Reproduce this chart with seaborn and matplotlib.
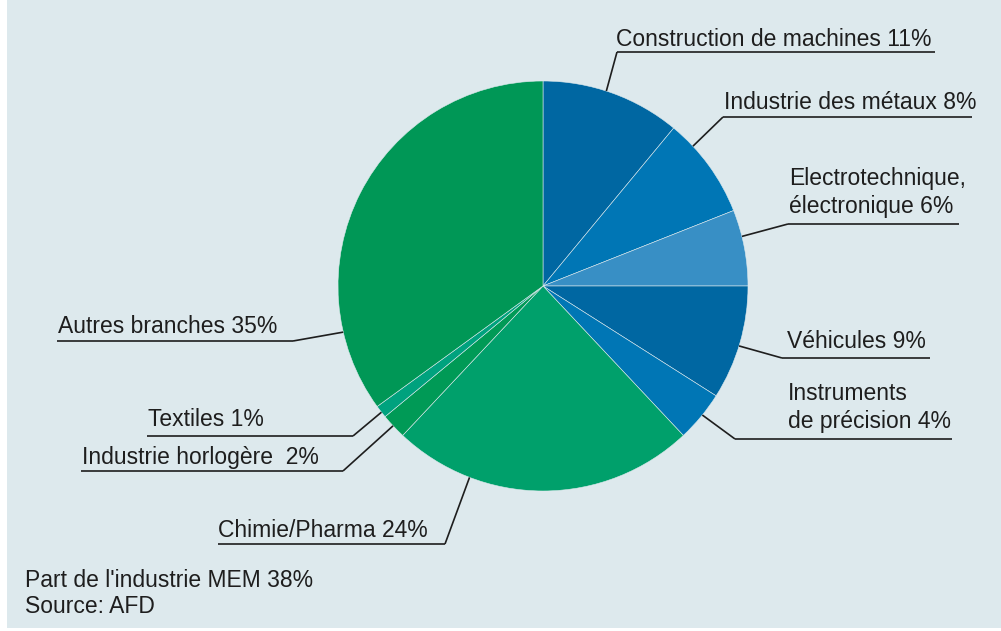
import numpy as np
import seaborn as sns
import matplotlib.pyplot as plt
from matplotlib.patches import Rectangle

sns.set_theme(style="white")
plt.rcParams["font.family"] = ["Liberation Sans", "DejaVu Sans"]

# ----------------------------
# Data
# ----------------------------
branches = [
    "Construction de machines 11%",
    "Industrie des métaux 8%",
    "Electrotechnique,\nélectronique 6%",
    "Véhicules 9%",
    "Instruments\nde précision 4%",
    "Chimie/Pharma 24%",
    "Industrie horlogère  2%",
    "Textiles 1%",
    "Autres branches 35%",
]
shares = [11, 8, 6, 9, 4, 24, 2, 1, 35]
slice_colors = [
    "#0067a2", "#0076b5", "#388fc5", "#0067a2", "#0076b5",
    "#00a06b", "#009a56", "#00a27e", "#009756",
]
footer_lines = ["Part de l'industrie MEM 38%", "Source: AFD"]

# label layout in pixels: text x, last baseline y, underline x0, x1, underline y, leader side
label_layout = [
    (616, 46, 617, 935, 52, "left"),
    (724, 109, 723, 972, 117, "left"),
    (789, 213, 788, 959, 224, "left"),
    (787, 348, 782, 930, 358, "left"),
    (788, 428, 735, 952, 439, "left"),
    (218, 537, 218, 445, 544, "right"),
    (82, 464, 81, 343, 471, "right"),
    (148, 426, 147, 353, 436, "right"),
    (58, 333, 57, 293, 341, "right"),
]
# where each leader touches the pie rim (degrees, 0 = 3 o'clock)
anchor_angles = [72, 43, 14, -17, -39, -111, -137, -142, 193]

W, H = 1001, 631
BG = "#dde9ed"
INK = "#1e1e1e"
FS = 16.5
LINE_STEP = 28

fig = plt.figure(figsize=(W / 100, H / 100), dpi=100, facecolor="white")

# background panel
bg_ax = fig.add_axes([0, 0, 1, 1])
bg_ax.set_xlim(0, W)
bg_ax.set_ylim(H, 0)
bg_ax.axis("off")
bg_ax.add_patch(Rectangle((7, 0), W - 7, H - 3, facecolor=BG, edgecolor="none"))

# pie
cx, cy, r = 543, 286, 205
pie_ax = fig.add_axes([(cx - r) / W, (H - cy - r) / H, 2 * r / W, 2 * r / H])
pie_ax.pie(
    shares,
    colors=slice_colors,
    startangle=90,
    counterclock=False,
    radius=1,
    wedgeprops=dict(linewidth=0.4, edgecolor=BG),
)
pie_ax.set_xlim(-1, 1)
pie_ax.set_ylim(-1, 1)
pie_ax.set_aspect("equal")
pie_ax.axis("off")

# overlay for labels in pixel coordinates
ov = fig.add_axes([0, 0, 1, 1])
ov.set_xlim(0, W)
ov.set_ylim(H, 0)
ov.axis("off")
ov.patch.set_alpha(0)

to_pix = pie_ax.transData + ov.transData.inverted()
for text, (tx, ty, x0, x1, uy, side), ang in zip(branches, label_layout, anchor_angles):
    a = np.deg2rad(ang)
    px, py = to_pix.transform((np.cos(a), np.sin(a)))
    ex = x0 if side == "left" else x1
    ov.plot([px, ex], [py, uy], color=INK, lw=1.2, solid_capstyle="butt")
    ov.plot([x0, x1], [uy, uy], color=INK, lw=1.2, solid_capstyle="butt")
    lines = text.split("\n")
    for i, line in enumerate(lines):
        y = ty - (len(lines) - 1 - i) * LINE_STEP
        ov.text(tx, y, line, ha="left", va="baseline", fontsize=FS, color=INK)

for i, line in enumerate(footer_lines):
    ov.text(25, 587 + i * 26, line, ha="left", va="baseline", fontsize=FS, color=INK)

fig.savefig("out.png", dpi=100, facecolor="white")
